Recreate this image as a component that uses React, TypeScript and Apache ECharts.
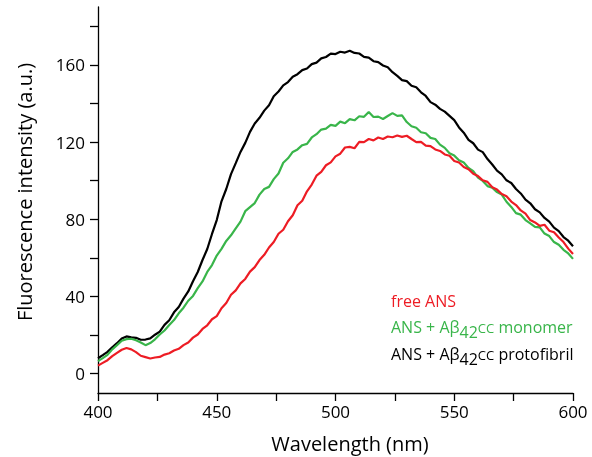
import React, { useEffect, useRef } from "react";
import * as echarts from "echarts";

const wavelengths: number[] = Array.from({ length: 101 }, (_, i) => 400 + i * 2);

const freeANS: number[] = [
  4.2, 5.6, 7.0, 9.1, 10.8, 12.4, 13.3, 12.6, 11.2, 9.3,
  8.6, 7.9, 8.4, 8.7, 9.9, 10.6, 12.0, 12.9, 14.8, 16.2,
  18.7, 20.3, 23.2, 25.1, 28.2, 29.8, 33.9, 36.6, 40.9, 43.2,
  46.8, 49.1, 52.9, 55.2, 58.9, 61.6, 65.4, 68.2, 72.5, 74.6,
  79.0, 82.1, 87.3, 89.6, 94.5, 98.0, 102.6, 104.6, 108.0, 109.5,
  112.6, 114.0, 117.2, 117.5, 116.8, 120.1, 120.0, 121.6, 120.9, 122.4,
  121.6, 122.9, 122.5, 123.4, 122.7, 123.3, 121.6, 120.0, 120.1, 118.2,
  117.9, 116.2, 115.4, 113.6, 112.9, 110.2, 109.4, 107.1, 105.9, 103.6,
  102.4, 100.2, 99.4, 96.6, 95.4, 93.1, 91.9, 89.2, 87.4, 84.6,
  82.9, 79.6, 78.4, 76.6, 77.2, 74.1, 73.3, 70.6, 68.2, 64.8,
  62.0,
];

const monomer: number[] = [
  6.5, 8.1, 9.8, 12.6, 14.8, 17.1, 17.9, 18.1, 17.3, 16.2,
  14.8, 15.9, 17.8, 20.3, 22.4, 25.2, 27.8, 31.3, 34.2, 37.8,
  40.3, 44.3, 47.8, 52.7, 56.3, 61.2, 64.7, 68.8, 71.7, 75.3,
  78.8, 84.2, 86.3, 88.4, 92.8, 95.7, 96.8, 100.8, 103.7, 109.3,
  111.6, 114.9, 116.2, 118.4, 119.1, 122.4, 124.1, 126.5, 127.0, 128.9,
  128.4, 130.6, 129.8, 131.9, 131.3, 133.4, 133.1, 135.6, 133.0, 133.2,
  132.0, 133.5, 135.0, 133.6, 133.8, 130.4, 128.2, 127.4, 125.1, 124.6,
  122.2, 121.6, 118.7, 117.0, 114.2, 113.0, 110.6, 109.4, 106.6, 104.9,
  101.6, 99.9, 97.2, 96.4, 94.1, 92.8, 89.1, 86.4, 83.2, 82.4,
  79.6, 77.9, 76.1, 75.8, 72.6, 71.3, 68.2, 66.8, 64.2, 62.3,
  59.5,
];

const protofibril: number[] = [
  8.0, 9.6, 11.3, 13.7, 15.8, 18.2, 19.3, 18.8, 18.6, 17.6,
  17.7, 18.3, 20.2, 21.8, 25.3, 27.7, 31.8, 34.6, 38.9, 42.6,
  47.9, 52.7, 58.9, 64.6, 72.4, 79.6, 89.3, 95.7, 103.4, 109.1,
  114.9, 119.6, 125.3, 129.6, 132.6, 136.3, 139.1, 143.8, 146.2, 149.4,
  151.1, 153.9, 155.2, 157.3, 158.1, 160.4, 161.2, 163.4, 164.1, 165.8,
  165.6, 166.8, 166.4, 167.3, 166.2, 165.9, 164.2, 163.8, 161.9, 161.4,
  159.7, 158.8, 156.2, 154.3, 152.1, 151.6, 149.2, 148.4, 145.8, 143.9,
  140.7, 139.4, 137.2, 135.8, 133.6, 131.4, 127.6, 124.9, 121.2, 119.4,
  116.1, 114.8, 111.2, 108.4, 105.2, 103.3, 100.2, 98.8, 95.7, 93.4,
  90.2, 88.3, 85.2, 83.6, 80.7, 78.8, 75.7, 73.9, 70.8, 68.9,
  66.0,
];

const xLabelValues: number[] = [400, 450, 500, 550, 600];
const yTickValues: number[] = [0, 20, 40, 60, 80, 100, 120, 140, 160, 180];
const yLabelValues: number[] = [0, 40, 80, 120, 160];

const RED = "#ed1c24";
const GREEN = "#39b54a";
const BLACK = "#000000";
const FONT = "'Open Sans', 'Noto Sans', sans-serif";

const pairs = (vals: number[]) => wavelengths.map((w, i) => [w, vals[i]]);

export default function App() {
  const ref = useRef<HTMLDivElement>(null);
  useEffect(() => {
    if (!ref.current) return;
    const chart = echarts.init(ref.current, undefined, { renderer: "svg" });
    const axisLine = { show: true, onZero: false, lineStyle: { color: "#000", width: 1.3 } };
    const axisTickStyle = { lineStyle: { color: "#000", width: 1.3 }, length: 8, inside: false };
    const mkLegend = (label: string, color: string, y: number) => ({
      type: "text",
      left: 391,
      top: y,
      style: {
        text: label,
        fill: color,
        font: `16px ${FONT}`,
        rich: {
          n: { fontSize: 16, fontFamily: FONT, fill: color, color },
          s: { fontSize: 16, fontFamily: FONT, fill: color, color, padding: [9, 0, 0, 0] },
          c: { fontSize: 13, fontFamily: FONT, fill: color, color, padding: [2, 0, 0, 0] },
        },
      },
    });
    chart.setOption({
      animation: false,
      grid: { left: 98, right: 19, top: 7, bottom: 64 },
      xAxis: {
        type: "value",
        min: 400,
        max: 600,
        interval: 25,
        axisLine,
        axisTick: { show: true, ...axisTickStyle },
        axisLabel: {
          customValues: xLabelValues,
          margin: 10,
          fontSize: 17,
          fontFamily: FONT,
          color: "#000",
        },
        splitLine: { show: false },
      },
      yAxis: {
        type: "value",
        min: -10,
        max: 190,
        axisLine,
        axisTick: { show: true, customValues: yTickValues, ...axisTickStyle },
        axisLabel: {
          customValues: yLabelValues,
          margin: 13,
          fontSize: 17,
          fontFamily: FONT,
          color: "#000",
        },
        splitLine: { show: false },
      },
      graphic: [
        {
          type: "text",
          x: 24,
          y: 192,
          rotation: Math.PI / 2,
          style: {
            text: "Fluorescence intensity (a.u.)",
            font: `20px ${FONT}`,
            fill: "#000",
            align: "center",
            verticalAlign: "middle",
          },
        },
        {
          type: "text",
          x: 350,
          y: 443,
          style: {
            text: "Wavelength (nm)",
            font: `20px ${FONT}`,
            fill: "#000",
            align: "center",
            verticalAlign: "middle",
          },
        },
        mkLegend("{n|free ANS}", RED, 293),
        mkLegend("{n|ANS + Aβ}{s|42}{c|CC}{n| monomer}", GREEN, 319),
        mkLegend("{n|ANS + Aβ}{s|42}{c|CC}{n| protofibril}", BLACK, 346),
      ],
      series: [
        { type: "line", data: pairs(freeANS), showSymbol: false, lineStyle: { color: RED, width: 2.2 }, itemStyle: { color: RED }, z: 3 },
        { type: "line", data: pairs(monomer), showSymbol: false, lineStyle: { color: GREEN, width: 2.2 }, itemStyle: { color: GREEN }, z: 2 },
        { type: "line", data: pairs(protofibril), showSymbol: false, lineStyle: { color: BLACK, width: 2.2 }, itemStyle: { color: BLACK }, z: 1 },
      ],
    });
    return () => chart.dispose();
  }, []);
  return <div ref={ref} style={{ position: "fixed", left: 0, top: 0, width: 592, height: 457 }} />;
}
